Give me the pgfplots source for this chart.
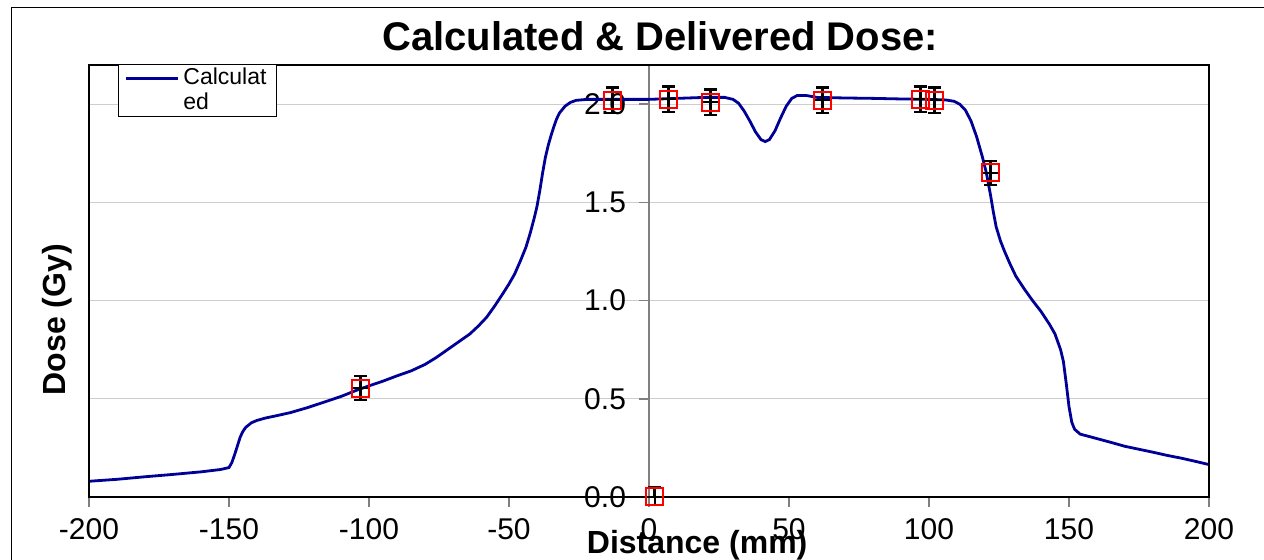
\documentclass[border=0pt]{standalone}
\usepackage{fontspec}
\setmainfont{Liberation Sans}
\usepackage{pgfplots}
\usepackage{pgfplotstable}
\pgfplotsset{compat=1.18}

\definecolor{navy}{RGB}{0,0,150}
\definecolor{gridgray}{RGB}{205,205,205}

% calculated dose profile
\pgfplotstableread{
x y
-200 0.080
-190 0.090
-180 0.103
-170 0.115
-160 0.128
-153 0.140
-150 0.150
-149 0.175
-148 0.215
-147 0.260
-146 0.305
-145 0.335
-144 0.355
-142 0.378
-140 0.390
-137 0.402
-133 0.414
-128 0.430
-122 0.455
-115 0.488
-110 0.512
-104 0.546
-100 0.566
-95 0.590
-90 0.617
-85 0.642
-80 0.675
-76 0.710
-72 0.750
-68 0.790
-64 0.830
-61 0.870
-58 0.915
-55 0.975
-52 1.040
-50 1.085
-48 1.135
-46 1.200
-44 1.270
-42.5 1.340
-41 1.420
-40 1.480
-39 1.560
-38 1.650
-37 1.730
-36 1.790
-35 1.840
-34 1.885
-33 1.925
-32 1.955
-30 1.990
-28 2.010
-26 2.020
-22 2.025
-10 2.025
0 2.025
10 2.030
20 2.035
27 2.035
30 2.025
32 2.005
34 1.965
36 1.915
38 1.860
40 1.820
41.5 1.810
43 1.820
45 1.865
47 1.930
49 1.990
51 2.030
53 2.045
56 2.045
60 2.035
70 2.032
80 2.030
90 2.027
100 2.025
106 2.022
109 2.015
111 2.000
113 1.970
115 1.915
117 1.835
119 1.735
120.5 1.650
122 1.535
123 1.450
124 1.375
125.5 1.305
127 1.250
129 1.185
131 1.125
134 1.060
137 1.000
140 0.945
143 0.880
145 0.830
147 0.750
148 0.690
149 0.580
150 0.460
151 0.380
152 0.345
154 0.320
158 0.305
165 0.278
170 0.258
175 0.243
180 0.228
185 0.212
190 0.198
195 0.182
200 0.165
}\calcdose

% delivered (measured) points
\pgfplotstableread{
x y ep em
-103 0.555 0.060 0.060
-13 2.020 0.065 0.065
2 0.000 0.050 0.000
7 2.025 0.065 0.065
22 2.010 0.065 0.065
62 2.020 0.065 0.065
97 2.025 0.065 0.065
102 2.020 0.065 0.065
122 1.650 0.060 0.060
}\measured

\begin{document}
\begin{tikzpicture}
\begin{axis}[
    scale only axis,
    width=560pt, height=216pt,
    xmin=-200, xmax=200,
    ymin=0, ymax=2.2,
    clip=false,
    axis x line=bottom,
    axis y line=center,
    x axis line style={-, black, line width=1.2pt},
    y axis line style={-, gray, line width=0.8pt},
    hide obscured x ticks=false,
    hide obscured y ticks=false,
    xtick={-200,-150,...,200},
    ytick={0,0.5,1,1.5,2},
    tick align=outside,
    major tick length=5pt,
    tick style={gray, line width=0.8pt},
    ymajorgrids,
    grid style={gridgray, line width=0.6pt},
    /pgf/number format/assume math mode=true,
    tick label style={font=\fontsize{15}{18}\selectfont},
    x tick label style={yshift=-2pt},
    y tick label style={xshift=-3pt, /pgf/number format/fixed, /pgf/number format/fixed zerofill, /pgf/number format/precision=1},
    title={Calculated \& Delivered Dose:},
    title style={at={(rel axis cs:0.51,1)}, anchor=center, yshift=8.5pt, font=\bfseries\fontsize{20}{24}\selectfont},
    xlabel={Distance (mm)},
    xlabel style={at={(rel axis cs:0.543,0)}, anchor=center, yshift=-24pt, font=\bfseries\fontsize{16}{19}\selectfont},
    ylabel={Dose (Gy)},
    ylabel style={at={(rel axis cs:0,0.41)}, anchor=center, rotate=90, yshift=16pt, font=\bfseries\fontsize{16}{19}\selectfont},
    legend style={at={(rel axis cs:0.026,1.003)}, anchor=north west, draw=black, line width=0.5pt,
        font=\fontsize{11.5}{12.5}\selectfont, cells={align=left}, inner xsep=3pt, inner ysep=0pt},
    legend image code/.code={\draw[#1] (0pt,6pt) -- (26pt,6pt);},
]
\addplot[navy, line width=1.4pt] table[x=x, y=y] {\calcdose};
\addlegendentry{Calculat\\ed}

\addplot[forget plot, only marks, mark=+, mark size=4.25pt, mark options={black, line width=0.9pt},
    error bars/.cd, y dir=both, y explicit,
    error bar style={black, line width=1.2pt},
    error mark options={rotate=90, black, line width=1.2pt, mark size=3.25pt}]
    table[x=x, y=y, y error plus=ep, y error minus=em] {\measured};
\addplot[forget plot, only marks, mark=square, mark size=4.25pt, mark options={draw=red, line width=1pt, fill=none}]
    table[x=x, y=y] {\measured};

\draw[black, line width=1.2pt] (rel axis cs:0,0) rectangle (rel axis cs:1,1);
\end{axis}
\draw[black, line width=0.5pt] (-38.5pt,244.5pt) rectangle (620pt,-60pt);
\pgfresetboundingbox
\path[use as bounding box] (-44.5pt,-31.5pt) rectangle (587.5pt,248.5pt);
\end{tikzpicture}
\end{document}
